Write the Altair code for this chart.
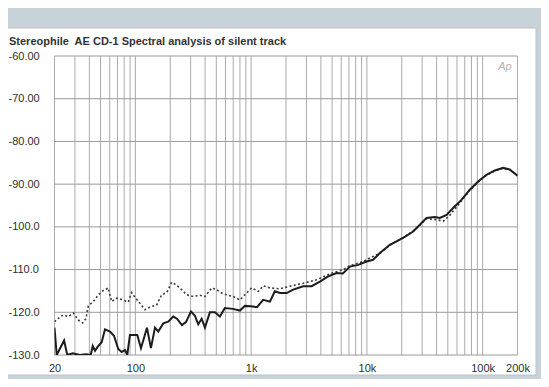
import altair as alt
import pandas as pd

title_text = "Stereophile\u00a0 AE CD-1 Spectral analysis of silent track"
logo_text = "Ap"

# Solid trace (channel 1)
solid_freq = [20, 20.9, 24.2, 25.8, 28.7, 33.2, 37.4, 41.1, 42.8, 44.8, 47.5, 51.1,
              54.6, 60.3, 65.3, 71.1, 76.1, 81.2, 85.1, 89.7, 103.8, 111.7, 118.6,
              125.8, 136.2, 147.6, 157.5, 174.1, 192.2, 212.4, 228.5, 252.3, 273.4,
              302, 326.8, 349, 373.4, 399, 440, 486, 537, 593, 695, 800, 883, 995,
              1122, 1271, 1452, 1603, 1771, 2023, 2307, 2816, 3327, 3926, 4627, 5471,
              6199, 7126, 8403, 9932, 11323, 12945, 15777, 20560, 25075, 28650, 32740,
              38620, 42650, 48750, 55600, 65650, 77450, 91400, 107900, 127400, 150300,
              171800, 200000]
solid_db = [-123.6, -130, -126.6, -130, -129.6, -130, -129.8, -130, -127.9, -129, -128, -127,
            -124, -124.5, -125.5, -128.6, -129.3, -128.8, -130, -125.3, -125.3, -128.4, -126,
            -123.6, -128.4, -123.6, -124.5, -122.6, -122.2, -121, -121.5, -123, -122.3,
            -119.8, -120.8, -122.8, -121.5, -123.6, -120, -120, -121, -119, -119.2, -119.6,
            -118.5, -118.6, -118.8, -117.1, -117.5, -115.1, -115.5, -115.5, -114.7, -113.9,
            -113.9, -112.8, -111.6, -110.8, -110.9, -109.3, -108.9, -108.1, -107.7, -106.1,
            -104.2, -102.6, -101.1, -99.5, -97.9, -97.7, -97.9, -97.2, -95.6, -93.7, -91.3,
            -89.4, -87.8, -86.8, -86.2, -86.6, -88]

# Dotted trace (channel 2)
dotted_freq = [20, 21.6, 23.8, 26.3, 29.1, 32.1, 35.0, 37.4, 39.2, 43.3, 47.8, 52.8, 58.3,
               62.4, 68.9, 78.5, 86.7, 92.8, 99.1, 109.4, 120.9, 138.1, 152.6, 168.6, 186.2,
               205.6, 219.6, 242.6, 277, 316, 361, 399, 456, 503, 556, 614, 700, 800, 883,
               1009, 1151, 1271, 1452, 1771, 2162, 2816, 3672, 4789, 6239, 7126, 9290,
               10600, 12945, 15777, 20560, 25075, 28650, 32740, 39900, 45500, 52000, 65650,
               77450, 91400, 107900, 127400, 150300, 171800, 200000]
dotted_db = [-122.2, -121.4, -120.6, -121, -120.2, -121.8, -122.5, -121.5, -118.5, -117.5,
             -115.9, -114.9, -114.3, -117.5, -116.7, -117.1, -117.6, -115.4, -116.5, -117.9,
             -119.4, -118.6, -118.3, -115.9, -115.4, -113, -113.4, -114.3, -115.9, -116.3,
             -116, -116.3, -114.3, -114.7, -115.5, -115.9, -116.3, -117.1, -115.9, -114.3,
             -115.1, -113.8, -114.3, -114.5, -113.9, -113.2, -112.4, -111, -110, -109.1,
             -108.1, -107.3, -106.2, -104.3, -102.5, -101, -99.6, -98.1, -98.3, -98.7, -97.3,
             -93.9, -91.4, -89.5, -87.9, -86.9, -86.3, -86.6, -88]

grid_freqs = [20, 30, 40, 50, 60, 70, 80, 90,
              100, 200, 300, 400, 500, 600, 700, 800, 900,
              1000, 2000, 3000, 4000, 5000, 6000, 7000, 8000, 9000,
              10000, 20000, 30000, 40000, 50000, 60000, 70000, 80000, 90000,
              100000, 200000]
grid_dbs = [-60, -70, -80, -90, -100, -110, -120, -130]
x_tick_values = [20, 100, 1000, 10000, 100000, 200000]
x_tick_labels = ["20", "100", "1k", "10k", "100k", "200k"]

FONT = "Liberation Sans"
TEXT = "#2e2e2e"

label_expr = "".join(
    f"datum.value == {v} ? '{t}' : " for v, t in zip(x_tick_values, x_tick_labels)
) + "''"
y_label_expr = "replace(format(datum.value, '.4r'), '\u2212', '-')"

xscale = alt.Scale(type="log", domain=[20, 200000], nice=False)
yscale = alt.Scale(domain=[-130, -60], nice=False)

x_axis = alt.Axis(values=x_tick_values, labelExpr=label_expr, labelFlush=False,
                  labelOverlap=False, labelPadding=7, ticks=False, tickSize=0,
                  domain=False, grid=False, title=None, zindex=1, labelFont=FONT,
                  labelFontSize=11, labelColor=TEXT)
y_axis = alt.Axis(values=grid_dbs, labelExpr=y_label_expr, labelAlign="left",
                  labelPadding=46.5, labelBaseline="middle", ticks=False, tickSize=0,
                  domain=False, grid=False, title=None, zindex=1, labelFont=FONT,
                  labelFontSize=11, labelColor=TEXT)

X = lambda: alt.X("f:Q", scale=xscale, axis=x_axis)
Y = lambda: alt.Y("db:Q", scale=yscale, axis=y_axis)

card = alt.Chart(pd.DataFrame({"a": [0]})).mark_rect(
    fill="white", stroke="#b9c2c8", strokeWidth=1, clip=False
).encode(x=alt.value(-50), x2=alt.value(481.5), y=alt.value(-28), y2=alt.value(319))

title = alt.Chart(pd.DataFrame({"t": [title_text]})).mark_text(
    align="left", baseline="alphabetic", font=FONT, fontSize=11, fontWeight="bold",
    color="#333333"
).encode(text="t:N", x=alt.value(-45.5), y=alt.value(-11.5))

vgrid = alt.Chart(pd.DataFrame({"f": grid_freqs})).mark_rule(
    color="#ababab", strokeWidth=1
).encode(x=X())

hgrid = alt.Chart(pd.DataFrame({"db": grid_dbs})).mark_rule(
    color="#9a9a9a", strokeWidth=1
).encode(y=Y())

logo = alt.Chart(pd.DataFrame({"f": [156000], "db": [-62.6], "t": [logo_text]})).mark_text(
    font=FONT, fontSize=11, fontStyle="italic", color="#b4b4b4"
).encode(x=X(), y=Y(), text="t:N")

dotted = alt.Chart(pd.DataFrame({"f": dotted_freq, "db": dotted_db})).mark_line(
    color="#3a3a3a", strokeWidth=1.6, strokeDash=[2, 2.4], clip=True
).encode(x=X(), y=Y())

solid = alt.Chart(pd.DataFrame({"f": solid_freq, "db": solid_db})).mark_line(
    color="#1c1c1c", strokeWidth=2, clip=True
).encode(x=X(), y=Y())

chart = alt.layer(card, title, vgrid, hgrid, logo, dotted, solid).properties(
    width=463, height=299,
    padding={"left": 46.5, "top": 48, "right": 23.5, "bottom": 24},
    autosize=alt.AutoSizeParams(type="none"),
    background="#c8d2d9",
).configure_view(stroke=None)

chart.save("out.html", embed_options={"renderer": "svg", "actions": False})
